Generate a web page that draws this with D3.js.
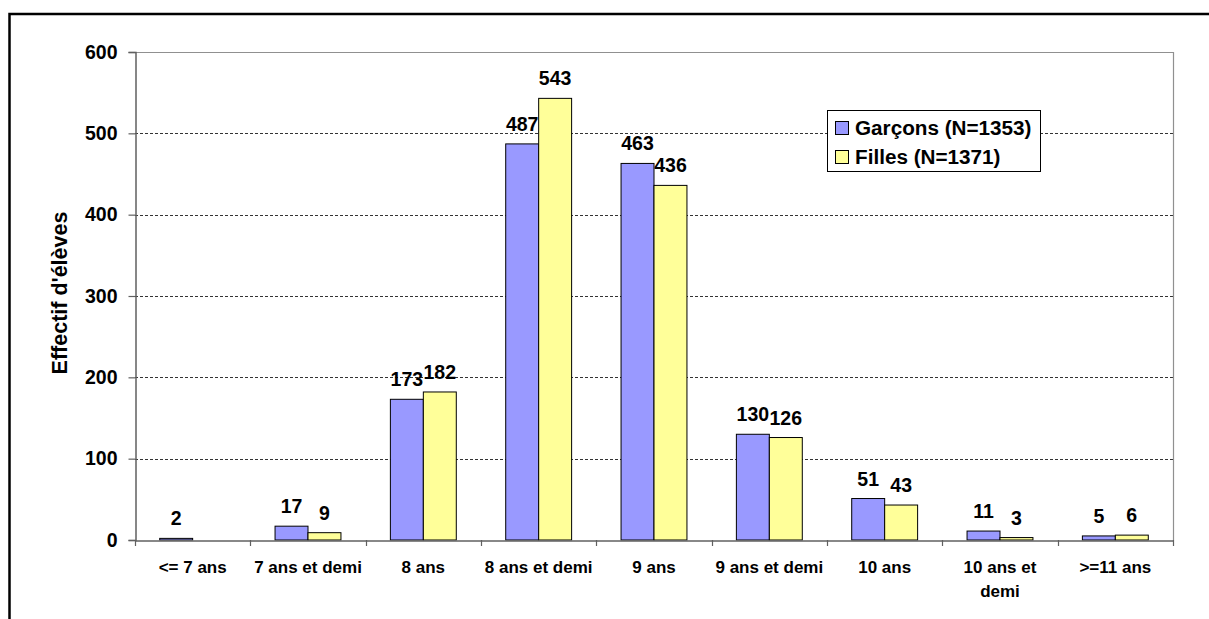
<!DOCTYPE html>
<html>
<head>
<meta charset="utf-8">
<script src="https://cdn.jsdelivr.net/npm/d3@7"></script>
<style>
  html, body { margin: 0; padding: 0; background: #fff; overflow: hidden; }
  svg { display: block; }
  text { font-family: "Liberation Sans", Arial, sans-serif; font-weight: bold; fill: #000; }
</style>
</head>
<body>
<svg id="chart" width="1209" height="619"></svg>
<script>
const categories = ["<= 7 ans", "7 ans et demi", "8 ans", "8 ans et demi", "9 ans", "9 ans et demi", "10 ans", "10 ans et demi", ">=11 ans"];
const garcons = [2, 17, 173, 487, 463, 130, 51, 11, 5];
const filles = [0, 9, 182, 543, 436, 126, 43, 3, 6];
const seriesNames = ["Garçons (N=1353)", "Filles (N=1371)"];
const seriesColors = ["#9999FF", "#FFFF99"];
const yTicks = [0, 100, 200, 300, 400, 500, 600];
const yTitle = "Effectif d'élèves";

const svg = d3.select("#chart");
const pLeft = 135, pRight = 1173, pTop = 52, pBottom = 540;

// outer frame
svg.append("rect").attr("x", 9.5).attr("y", 14).attr("width", 1400).attr("height", 800)
  .attr("fill", "none").attr("stroke", "#000").attr("stroke-width", 2.5);

const y = d3.scaleLinear().domain([0, 600]).range([pBottom, pTop]);
const x0 = d3.scaleBand().domain(categories).range([pLeft, pRight]).paddingInner(0).paddingOuter(0);
const x1 = d3.scaleBand().domain([0, 1]).range([0, x0.bandwidth()]).paddingInner(0).paddingOuter(0.75);

// gridlines
svg.append("g").selectAll("line").data(yTicks.filter(d => d > 0 && d < 600)).join("line")
  .attr("x1", pLeft).attr("x2", pRight)
  .attr("y1", d => Math.round(y(d)) + 0.5).attr("y2", d => Math.round(y(d)) + 0.5)
  .attr("stroke", "#333").attr("stroke-dasharray", "3,2").attr("stroke-width", 1);

// plot border top/right
svg.append("path")
  .attr("d", `M${pLeft},${Math.round(y(600)) + 0.5}H${pRight + 0.5}V${pBottom}`)
  .attr("fill", "none").attr("stroke", "#909090").attr("stroke-width", 1.2);

// bars
const data = categories.map((c, i) => ({ c, vals: [garcons[i], filles[i]] }));
const groups = svg.append("g").selectAll("g").data(data).join("g")
  .attr("transform", d => `translate(${x0(d.c)},0)`);

groups.selectAll("rect").data(d => d.vals.map((v, k) => ({ v, k })).filter(e => e.v > 0)).join("rect")
  .attr("x", e => x1(e.k))
  .attr("y", e => y(e.v))
  .attr("width", x1.bandwidth())
  .attr("height", e => pBottom - y(e.v))
  .attr("fill", e => seriesColors[e.k])
  .attr("stroke", "#000").attr("stroke-width", 1);

groups.selectAll("text").data(d => d.vals.map((v, k) => ({ v, k })).filter(e => e.v > 0)).join("text")
  .attr("x", e => x1(e.k) + x1.bandwidth() / 2)
  .attr("y", e => y(e.v) - 13)
  .attr("text-anchor", "middle")
  .style("font-size", "19.5px")
  .text(e => e.v);

// y axis
const yAxis = d3.axisLeft(y).tickValues(yTicks).tickSize(7).tickPadding(11);
const gy = svg.append("g").attr("transform", `translate(${pLeft + 0.5},0)`).call(yAxis);
gy.select(".domain").attr("stroke", "#606060").attr("stroke-width", 1.5);
gy.selectAll(".tick line").attr("stroke", "#606060").attr("stroke-width", 1.2);
gy.selectAll(".tick text").style("font-size", "19.5px").attr("fill", "#000")
  .style("font-family", "'Liberation Sans', Arial, sans-serif").style("font-weight", "bold");

// x axis
const xAxis = d3.axisBottom(x0).tickSize(0).tickFormat("");
const gx = svg.append("g").attr("transform", `translate(0,${pBottom + 0.5})`).call(xAxis);
gx.select(".domain").attr("stroke", "#606060").attr("stroke-width", 1.5);
gx.selectAll(".tick").remove();
const boundaries = categories.map(c => x0(c)).concat([x0(categories[categories.length - 1]) + x0.bandwidth()]);
svg.append("g").selectAll("line").data(boundaries).join("line")
  .attr("x1", d => Math.round(d) + 0.5).attr("x2", d => Math.round(d) + 0.5)
  .attr("y1", pBottom).attr("y2", pBottom + 6)
  .attr("stroke", "#606060").attr("stroke-width", 1.2);

// category labels with wrapping
const maxW = 112;
const catG = svg.append("g");
categories.forEach(c => {
  const cx = x0(c) + x0.bandwidth() / 2;
  const t = catG.append("text")
    .attr("x", cx)
    .attr("y", 573)
    .attr("text-anchor", "middle")
    .style("font-size", "17px");
  const words = c.split(" ");
  let line = [];
  let tspan = t.append("tspan").attr("x", cx).attr("dy", 0);
  words.forEach(w => {
    line.push(w);
    tspan.text(line.join(" "));
    if (tspan.node().getComputedTextLength() > maxW && line.length > 1) {
      line.pop();
      tspan.text(line.join(" "));
      line = [w];
      tspan = t.append("tspan").attr("x", cx).attr("dy", 24).text(w);
    }
  });
});

// y title
svg.append("text")
  .attr("transform", `translate(67,${(pTop + pBottom) / 2 - 3}) rotate(-90)`)
  .attr("text-anchor", "middle")
  .style("font-size", "21.5px")
  .text(yTitle);

// legend
const lg = svg.append("g");
lg.append("rect").attr("x", 827.5).attr("y", 110.5).attr("width", 213).attr("height", 61)
  .attr("fill", "#fff").attr("stroke", "#000").attr("stroke-width", 1);
seriesNames.forEach((n, i) => {
  const cy = 128 + i * 29;
  lg.append("rect").attr("x", 835.5).attr("y", cy - 6.5).attr("width", 13).attr("height", 13)
    .attr("fill", seriesColors[i]).attr("stroke", "#000").attr("stroke-width", 1);
  lg.append("text").attr("x", 855).attr("y", cy + 7).style("font-size", "20.7px").text(n);
});
</script>
</body>
</html>
